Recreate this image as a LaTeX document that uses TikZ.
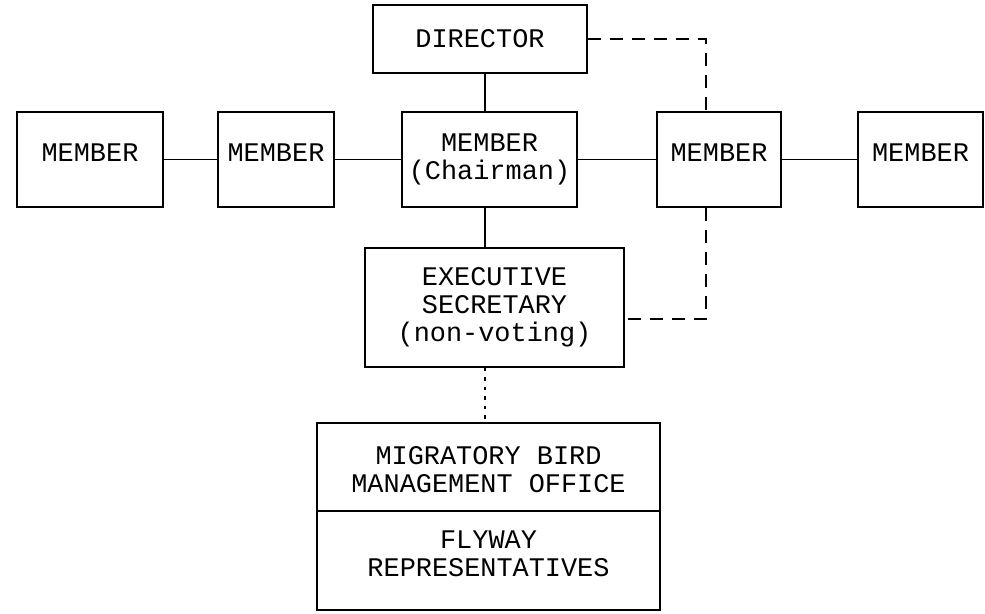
\documentclass[tikz,border=0pt]{standalone}
\usepackage{fontspec}
\setmonofont{Liberation Mono}
\begin{document}
\begin{tikzpicture}
        \tikzstyle{box}=[rectangle,draw=black,line width=1.1pt,align=center,inner sep=0pt,
                         font=\ttfamily\fontsize{15.3}{15.9}\selectfont]
        \tikzstyle{member}=[box,minimum height=1.9cm,text depth=0.28cm]
        \tikzstyle{link}=[line width=1.1pt]
        \tikzstyle{dashlink}=[line width=1.1pt,dash pattern=on 0.26cm off 0.18cm]
        \tikzstyle{dotlink}=[line width=1.1pt,dash pattern=on 0.07cm off 0.12cm]

      \useasboundingbox (0,0) rectangle (19.7,12.26);

      \begin{scope}
         \node[box,minimum width=4.28cm,minimum height=1.36cm] (director) at (9.6,11.48) {DIRECTOR};

         \node[member,minimum width=2.92cm] (m1) at (1.8,9.07)   {MEMBER};
         \node[member,minimum width=2.32cm] (m2) at (5.52,9.07)  {MEMBER};
         \node[box,minimum width=3.5cm,minimum height=1.9cm] (chair) at (9.79,9.07) {MEMBER\\(Chairman)};
         \node[member,minimum width=2.48cm] (m4) at (14.38,9.07) {MEMBER};
         \node[member,minimum width=2.5cm]  (m5) at (18.41,9.07) {MEMBER};

         \node[box,minimum width=5.18cm,minimum height=2.38cm] (exec) at (9.89,6.11)
              {EXECUTIVE\\SECRETARY\\(non-voting)};

         \node[box,minimum width=6.86cm,minimum height=3.74cm] (office) at (9.77,1.93) {};
         \node[font=\ttfamily\fontsize{15.3}{15.9}\selectfont,align=center] (mbmo) at (9.77,2.86)
              {MIGRATORY BIRD\\MANAGEMENT OFFICE};
         \node[font=\ttfamily\fontsize{15.3}{15.9}\selectfont,align=center] (flyway) at (9.77,1.18)
              {FLYWAY\\REPRESENTATIVES};

         \coordinate (spine)  at (9.7,0);
         \coordinate (riser)  at (14.12,0);
         \coordinate (split)  at (0,2.04);

         \draw[link] (office.west |- split) -- (office.east |- split);

         \draw[link] (director.south -| spine) to (chair.north -| spine);
         \draw[link] (chair.south -| spine) to (exec.north -| spine);
         \draw[dotlink] (exec.south -| spine) to (office.north -| spine);

         \draw[link] (m1) to (m2);
         \draw[link] (m2) to (chair);
         \draw[link] (chair) to (m4);
         \draw[link] (m4) to (m5);

         \draw[dashlink] (director.east) -| (m4.north -| riser);
         \draw[dashlink] (m4.south -| riser) |- ([yshift=-0.23cm]exec.east);
      \end{scope}
    \end{tikzpicture}
\end{document}
